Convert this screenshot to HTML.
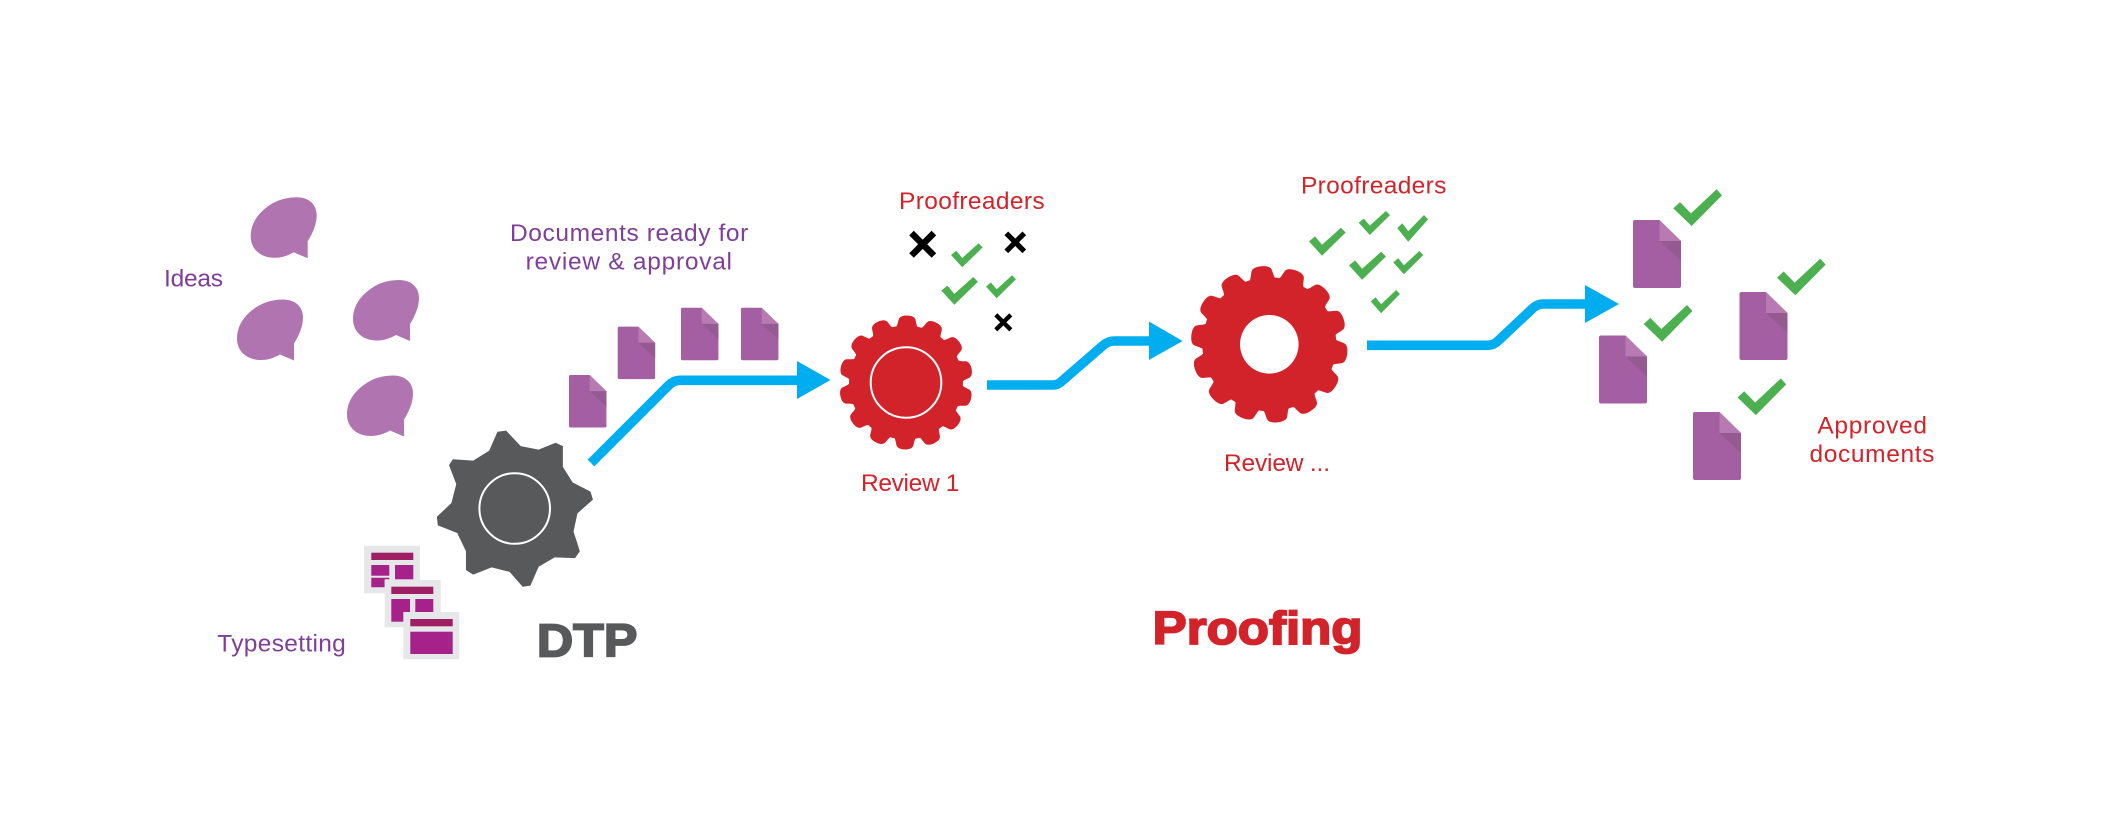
<!DOCTYPE html>
<html><head><meta charset="utf-8"><style>html,body{margin:0;padding:0;background:#fff}svg{display:block}text{font-family:"Liberation Sans",sans-serif;font-size:24.5px}.p{fill:#7f3f98}.r{fill:#d2232a}</style></head><body>
<svg width="2120" height="840" viewBox="0 0 2120 840" xmlns="http://www.w3.org/2000/svg">
<defs>
<path id="b" fill="#b075b0" d="M57 44L57 61L43 55C36 59 30 60.5 24 60.5C10 60.5 0 52 0 39C0 24 10 13 22 6C29 2 38 0 46 0C58 0 66 7 66 18C66 27 62 36 57 44Z"/>
<g id="d"><path fill="#a45fa3" d="M2 0H26.5L48 21V66Q48 68 46 68H2Q0 68 0 66V2Q0 0 2 0Z"/><path fill="#b87ab3" d="M26.5 0V21H48Z"/><path fill="#955a92" d="M26.5 21H48V41Z"/></g>
<path id="c" fill="#4cb050" d="M0 .52L.137 .35L.363 .655L.89 0L1 .164L.377 1Z"/>
<path id="s" fill="#4cb050" d="M0 .49L.164 .31L.355 .61L.87 0L1 .17L.355 1Z"/>
<path id="t1" fill="#d2232a" d="M-11 -55C-9 -58 -9 -62 -8 -64Q-6 -67 0 -67Q6 -67 8 -64C9 -62 9 -58 11 -55Z"/>
<path id="t2" fill="#d2232a" d="M-13 -65C-11 -68 -11 -73 -9.5 -75.5Q-7 -78.5 0 -78.5Q7 -78.5 9.5 -75.5C11 -73 11 -68 13 -65Z"/>
<g id="x"><path d="M-1 -1L1 1M-1 1L1 -1" stroke="#000" stroke-width=".58" fill="none"/></g>
</defs>

<use href="#b" x="250.7" y="197.3"/><use href="#b" x="237" y="299.5"/><use href="#b" x="353" y="280"/><use href="#b" x="347" y="375.5"/>
<text class="p" x="164" y="286.5" textLength="59" lengthAdjust="spacing">Ideas</text>
<text class="p" x="510" y="241" textLength="238.3" lengthAdjust="spacing">Documents ready for</text>
<text class="p" x="525.6" y="269.3" textLength="206.4" lengthAdjust="spacing">review &amp; approval</text>
<text class="p" x="217.3" y="651.6" textLength="128.5" lengthAdjust="spacing">Typesetting</text>

<use href="#d" transform="translate(569 375) scale(.78 .772)"/>
<use href="#d" transform="translate(617.7 326.6) scale(.78 .772)"/>
<use href="#d" transform="translate(681 307.7) scale(.78 .772)"/>
<use href="#d" transform="translate(741 307.7) scale(.78 .772)"/>

<g fill="none" stroke="#00aeef" stroke-width="9.6">
<path d="M591 463L669 385Q674 380.3 680 380.3H800"/>
<path d="M987 385H1053Q1058 385 1062 381L1103 345.5Q1108 341 1114 341H1150"/>
<path d="M1367 345.3H1488Q1494 345.3 1499 340L1532 309Q1537 304 1543 304H1586"/>
</g>
<g fill="#00aeef">
<path d="M797 361L830.5 380L797 399Z"/>
<path d="M1149 321.5L1182.6 341L1149 360Z"/>
<path d="M1585 285L1619 304L1585 323Z"/>
</g>

<g transform="translate(100 150) scale(.4847 .3444)">
<path fill="#58595b" d="M820 818L838 815L868 860L905 870L940 850L955 860L955 920L975 965L1012 992L1017 1015L985 1055L977 1108L990 1165L980 1185L938 1183L905 1210L888 1265L872 1268L845 1225L808 1212L770 1233L755 1220L755 1165L737 1112L697 1090L695 1065L725 1025L735 970L720 915L728 898L770 902L803 873Z"/>
</g>
<circle cx="514.7" cy="508.5" r="35.3" fill="none" stroke="#fff" stroke-width="2"/>

<g transform="translate(906 382.5)">
<circle r="57" fill="#d2232a"/>
<use href="#t1" transform="rotate(1)"/><use href="#t1" transform="rotate(26.7)"/><use href="#t1" transform="rotate(52.4)"/><use href="#t1" transform="rotate(78.1)"/><use href="#t1" transform="rotate(103.9)"/><use href="#t1" transform="rotate(129.6)"/><use href="#t1" transform="rotate(155.3)"/><use href="#t1" transform="rotate(181)"/><use href="#t1" transform="rotate(206.7)"/><use href="#t1" transform="rotate(232.4)"/><use href="#t1" transform="rotate(258.1)"/><use href="#t1" transform="rotate(283.9)"/><use href="#t1" transform="rotate(309.6)"/><use href="#t1" transform="rotate(335.3)"/>
<circle r="35.3" fill="none" stroke="#fff" stroke-width="2"/>
</g>

<g transform="translate(1269.3 344.3)">
<circle r="67" fill="#d2232a"/>
<use href="#t2" transform="rotate(-6)"/><use href="#t2" transform="rotate(19.7)"/><use href="#t2" transform="rotate(45.4)"/><use href="#t2" transform="rotate(71.1)"/><use href="#t2" transform="rotate(96.9)"/><use href="#t2" transform="rotate(122.6)"/><use href="#t2" transform="rotate(148.3)"/><use href="#t2" transform="rotate(174)"/><use href="#t2" transform="rotate(199.7)"/><use href="#t2" transform="rotate(225.4)"/><use href="#t2" transform="rotate(251.1)"/><use href="#t2" transform="rotate(276.9)"/><use href="#t2" transform="rotate(302.6)"/><use href="#t2" transform="rotate(328.3)"/>
<circle r="29.3" fill="#fff"/>
</g>

<rect x="364" y="545.7" width="56" height="47.6" fill="#e6e7e8"/>
<rect x="371.3" y="552.7" width="42" height="7.3" fill="#9e1f63"/>
<g fill="#a6228a"><rect x="371.3" y="565" width="18" height="10.7"/><rect x="395" y="565" width="18.3" height="14.3"/><path d="M371.3 577.7H389.3V579.3H384.7V587.3H371.3Z"/></g>
<rect x="384.7" y="580" width="56" height="47.3" fill="#e6e7e8"/>
<rect x="391.3" y="586.7" width="42" height="7.3" fill="#9e1f63"/>
<g fill="#a6228a"><rect x="391.3" y="599" width="18.7" height="22.7"/><rect x="415.3" y="599" width="18" height="13.7"/></g>
<rect x="403.3" y="612" width="56" height="47.3" fill="#e6e7e8"/>
<rect x="410.3" y="619" width="42.4" height="7.3" fill="#9e1f63"/>
<rect x="410.3" y="631.7" width="42.4" height="22.3" fill="#a6228a"/>

<text x="536.9" y="656.4" style="font-size:46px;font-weight:bold;fill:#58595b;stroke:#58595b;stroke-width:1.8" textLength="100.5" lengthAdjust="spacingAndGlyphs">DTP</text>
<text x="1152.7" y="644.1" style="font-size:46px;font-weight:bold;fill:#d2232a;stroke:#d2232a;stroke-width:1.8" textLength="209.8" lengthAdjust="spacingAndGlyphs">Proofing</text>

<text class="r" x="899" y="209" textLength="145.6" lengthAdjust="spacing">Proofreaders</text>
<text class="r" x="1301" y="193.4" textLength="145.4" lengthAdjust="spacing">Proofreaders</text>
<text class="r" x="861" y="491" textLength="98.4" lengthAdjust="spacing">Review 1</text>
<text class="r" x="1224" y="471" textLength="106" lengthAdjust="spacing">Review ...</text>
<text class="r" x="1817.4" y="433.4" textLength="109.6" lengthAdjust="spacing">Approved</text>
<text class="r" x="1809.5" y="462" textLength="124.9" lengthAdjust="spacing">documents</text>

<use href="#x" transform="translate(922.7 244.3) scale(11.2)"/>
<use href="#x" transform="translate(1015.3 242.3) scale(9)"/>
<use href="#x" transform="translate(1003.3 322.3) scale(7.5)"/>

<use href="#s" transform="translate(951 243.3) scale(31.7 24)"/>
<use href="#s" transform="translate(941.3 277) scale(36.7 27.7)"/>
<use href="#s" transform="translate(986 275.3) scale(30 23)"/>
<use href="#s" transform="translate(1309 227.7) scale(36.7 28)"/>
<use href="#s" transform="translate(1358.7 211) scale(31.3 24)"/>
<use href="#s" transform="translate(1397.3 215) scale(30.7 26.7)"/>
<use href="#s" transform="translate(1349 251.7) scale(37 28)"/>
<use href="#s" transform="translate(1393.3 251) scale(30 23.3)"/>
<use href="#s" transform="translate(1370.7 290) scale(29.3 23.3)"/>

<use href="#d" transform="translate(1633 220)"/>
<use href="#d" transform="translate(1739.5 292)"/>
<use href="#d" transform="translate(1599 335.5)"/>
<use href="#d" transform="translate(1693 412)"/>
<use href="#c" transform="translate(1673.3 189.3) scale(48.7 36.7)"/>
<use href="#c" transform="translate(1777 258.6) scale(48.7 36.7)"/>
<use href="#c" transform="translate(1643.7 305) scale(48.7 36.7)"/>
<use href="#c" transform="translate(1737.5 378.4) scale(48.7 36.7)"/>
</svg>
</body></html>
